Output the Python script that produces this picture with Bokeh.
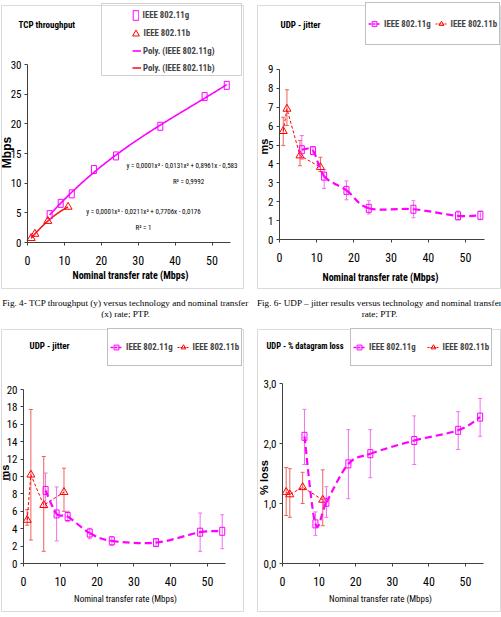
import numpy as np
from bokeh.plotting import figure
from bokeh.models import (ColumnDataSource, Whisker, TeeHead, Label, Legend, LegendItem,
                          FixedTicker, BoxAnnotation, Range1d)
from bokeh.layouts import column, row
from bokeh.embed import file_html
from bokeh.resources import INLINE

# ---------------- data ----------------
rate_g = [6, 9, 12, 18, 24, 36, 48, 54]          # IEEE 802.11g nominal rates (Mbps)
rate_b = [1, 2, 5.5, 11]                          # IEEE 802.11b nominal rates (Mbps)

# Fig. 4 - TCP throughput (Mbps)
tcp_g = [4.7, 6.6, 8.2, 12.3, 14.6, 19.6, 24.6, 26.5]
tcp_b = [0.73, 1.44, 3.61, 6.0]
eq_g = "y = 0,0001x\u00b3 - 0,0131x\u00b2 + 0,8961x - 0,583"
r2_g = "R\u00b2 = 0,9992"
eq_b = "y = 0,0001x\u00b3 - 0,0211x\u00b2 + 0,7706x - 0,0176"
r2_b = "R\u00b2 = 1"

# Fig. 6 - UDP jitter (ms), mean with low/high bars
jit1_g = [4.75, 4.7, 3.35, 2.6, 1.65, 1.6, 1.25, 1.28]
jit1_g_lo = [4.25, 4.5, 2.7, 2.1, 1.35, 1.15, 1.05, 1.05]
jit1_g_hi = [5.5, 4.9, 3.7, 3.1, 2.05, 2.05, 1.5, 1.5]
jit1_b = [5.73, 6.91, 4.44, 3.83]
jit1_b_lo = [4.97, 6.03, 3.9, 3.6]
jit1_b_hi = [6.47, 7.92, 5.24, 4.35]

# UDP jitter (ms), second set
jit2_g = [8.4, 5.7, 5.4, 3.5, 2.6, 2.4, 3.6, 3.7]
jit2_g_lo = [6.4, 2.6, 4.8, 2.85, 2.1, 2.0, 1.4, 1.7]
jit2_g_hi = [10.4, 8.8, 6.0, 4.05, 3.1, 2.8, 5.8, 5.6]
jit2_b = [5.0, 10.2, 6.7, 8.2]
jit2_b_lo = [4.4, 2.7, 1.4, 6.0]
jit2_b_hi = [6.2, 17.7, 12.3, 10.95]

# UDP - % datagram loss
loss_g = [2.12, 0.66, 1.02, 1.66, 1.83, 2.05, 2.22, 2.44]
loss_g_lo = [1.65, 0.47, 0.77, 1.08, 1.43, 1.65, 1.9, 2.12]
loss_g_hi = [2.57, 0.86, 1.28, 2.23, 2.23, 2.46, 2.53, 2.75]
loss_b = [1.19, 1.15, 1.27, 1.06]
loss_b_lo = [0.8, 0.77, 1.0, 0.63]
loss_b_hi = [1.6, 1.58, 1.52, 1.56]

x_ticks = [0, 10, 20, 30, 40, 50]
loss_tick_labels = {0: "0,0", 1: "1,0", 2: "2,0", 3: "3,0"}

# ---------------- styling ----------------
NARROW = "Roboto Condensed"
SANS = "Liberation Sans"
SERIF = "Liberation Serif"
MAGENTA = "#FF00FF"
RED = "#FF0000"
BAR_G = "#F070F0"
BAR_B = "#F06060"
AXIS = "#404040"
LEGEND_SIZE = "8.8px"

# panel geometry: page x, page y, width, height, axis origin x / y (inside figure)
G1 = (0, 0, 250, 318, 27, 242)
G2 = (250, 0, 251, 318, 29, 239)
G3 = (0, 318, 250, 299, 23, 245)
G4 = (250, 318, 251, 299, 32, 245)


def make_panel(geo, px_per_x, px_per_y, y_ticks, y_max):
    ox, oy, w, h, ax0, ay0 = geo
    p = figure(width=w, height=h, title=None, output_backend="svg", toolbar_location=None,
               x_range=Range1d(-ax0 / px_per_x, (w - ax0) / px_per_x),
               y_range=Range1d(-(h - ay0) / px_per_y, ay0 / px_per_y),
               min_border_left=0, min_border_right=0, min_border_top=0, min_border_bottom=0)
    p.outline_line_color = None
    p.xgrid.visible = False
    p.ygrid.visible = False
    p.background_fill_color = "white"
    p.border_fill_color = "white"
    p.xaxis.fixed_location = 0
    p.yaxis.fixed_location = 0
    p.xaxis.ticker = FixedTicker(ticks=x_ticks)
    p.yaxis.ticker = FixedTicker(ticks=y_ticks)
    p.xaxis.bounds = (0, 55)
    p.yaxis.bounds = (0, y_max)
    for ax in (p.xaxis[0], p.yaxis[0]):
        ax.axis_line_color = AXIS
        ax.major_tick_line_color = AXIS
        ax.major_tick_out = 3
        ax.major_tick_in = 0
        ax.minor_tick_line_color = None
        ax.major_label_text_font = NARROW
        ax.major_label_text_color = "black"
    p.xaxis.major_label_standoff = 10
    p.yaxis.major_label_standoff = 3
    p.xaxis.major_label_text_font_size = "12px"
    p.yaxis.major_label_text_font_size = "11px"
    return p


def put(p, geo, text, px, py, size="11px", font=NARROW, style="normal", align="left", angle=0.0):
    ox, oy, w, h, ax0, ay0 = geo
    p.add_layout(Label(x=px - ox, y=h - (py - oy), x_units="screen", y_units="screen",
                       text=text, text_font=font, text_font_size=size, text_font_style=style,
                       text_align=align, text_baseline="middle", angle=angle, text_color="black"))


def frame_box(p, geo, left, right, top, bottom, color):
    ox, oy, w, h, ax0, ay0 = geo
    p.add_layout(BoxAnnotation(left=left - ox, right=right - ox,
                               top=h - (top - oy), bottom=h - (bottom - oy),
                               left_units="screen", right_units="screen",
                               top_units="screen", bottom_units="screen",
                               fill_color=None, line_color=color, line_alpha=1.0, line_width=1))


def smooth(xs, ys):
    # cubic Bezier segments through the measured points (Catmull-Rom style handles)
    xs = np.asarray(xs, float)
    ys = np.asarray(ys, float)
    n = len(xs)
    d = dict(x0=[], y0=[], x1=[], y1=[], cx0=[], cy0=[], cx1=[], cy1=[])
    for i in range(n - 1):
        a = max(i - 1, 0)
        b = min(i + 2, n - 1)
        d["x0"].append(xs[i]); d["y0"].append(ys[i])
        d["x1"].append(xs[i + 1]); d["y1"].append(ys[i + 1])
        d["cx0"].append(xs[i] + (xs[i + 1] - xs[a]) / 6.0)
        d["cy0"].append(ys[i] + (ys[i + 1] - ys[a]) / 6.0)
        d["cx1"].append(xs[i + 1] - (xs[b] - xs[i]) / 6.0)
        d["cy1"].append(ys[i + 1] - (ys[b] - ys[i]) / 6.0)
    return ColumnDataSource(d)


def legend_only(xs):
    # rows with no y value: nothing lands on the plot, the legend still draws the glyph
    return ColumnDataSource(dict(x=list(xs), y=[float("nan")] * len(xs)))


def series_with_bars(p, gv, glo, ghi, bv, blo, bhi):
    src_g = ColumnDataSource(dict(x=rate_g, y=gv, lo=glo, hi=ghi))
    src_b = ColumnDataSource(dict(x=rate_b, y=bv, lo=blo, hi=bhi))
    for src, col in ((src_g, BAR_G), (src_b, BAR_B)):
        p.add_layout(Whisker(source=src, base="x", lower="lo", upper="hi", line_color=col,
                             line_width=1,
                             upper_head=TeeHead(size=4, line_color=col, line_width=1),
                             lower_head=TeeHead(size=4, line_color=col, line_width=1)))
    p.line("x", "y", source=src_b, line_color=RED, line_width=1, line_dash="3 2")
    p.scatter("x", "y", source=src_b, marker="triangle", size=8, fill_color=None,
              line_color=RED, line_width=1)
    p.bezier(x0="x0", y0="y0", x1="x1", y1="y1", cx0="cx0", cy0="cy0", cx1="cx1", cy1="cy1",
             source=smooth(rate_g, gv), line_color=MAGENTA, line_width=2.2, line_dash="7 4")
    p.rect("x", "y", source=src_g, width=5, height=8, width_units="screen",
           height_units="screen", fill_color=None, line_color=MAGENTA, line_width=1)


def pair_legend(p, geo, left, top, bottom, spacing):
    ox, oy, w, h, ax0, ay0 = geo
    g_line = p.line("x", "y", source=legend_only(rate_g), line_color=MAGENTA,
                    line_width=1.5, line_dash="3 1")
    g_mark = p.scatter("x", "y", source=legend_only(rate_g), marker="square", size=7,
                       fill_color=None, line_color=MAGENTA, line_width=1)
    b_line = p.line("x", "y", source=legend_only(rate_b), line_color=RED, line_width=1,
                    line_dash="2 1")
    b_mark = p.scatter("x", "y", source=legend_only(rate_b), marker="triangle", size=7,
                       fill_color=None, line_color=RED, line_width=1)
    leg = Legend(items=[LegendItem(label="IEEE 802.11g", renderers=[g_line, g_mark]),
                        LegendItem(label="IEEE 802.11b", renderers=[b_line, b_mark])],
                 orientation="horizontal", location=(left - ox, h - (bottom - oy)),
                 padding=2, margin=0, glyph_width=12, glyph_height=(bottom - top) - 4,
                 label_height=10, label_standoff=4, spacing=spacing,
                 border_line_color="#7F7F7F", border_line_width=1,
                 background_fill_color="white", background_fill_alpha=1.0,
                 label_text_font=NARROW, label_text_font_style="bold",
                 label_text_font_size=LEGEND_SIZE)
    p.add_layout(leg)


def x_label(p, geo, px, py, size, style):
    put(p, geo, "Nominal transfer rate (Mbps)", px, py, size=size, style=style, align="center")


# ---------------- Fig. 4: TCP throughput ----------------
p1 = make_panel(G1, 3.69, 5.93, [0, 5, 10, 15, 20, 25, 30], 30)
frame_box(p1, G1, 1, 243, 5, 288, "#DADADA")
fit_g = np.polyfit(rate_g, tcp_g, 3)
fit_b = np.polyfit(rate_b, tcp_b, 3)
xg = np.linspace(min(rate_g), max(rate_g), 120)
xb = np.linspace(min(rate_b), max(rate_b), 60)
trend_g = p1.line(xg, np.polyval(fit_g, xg), line_color=MAGENTA, line_width=1.6)
trend_b = p1.line(xb, np.polyval(fit_b, xb), line_color="#E8202A", line_width=1.6)
p1.rect(rate_g, tcp_g, width=5, height=8, width_units="screen", height_units="screen",
        fill_color=None, line_color=MAGENTA, line_width=1)
p1.scatter(rate_b, tcp_b, marker="triangle", size=8, fill_color=None, line_color=RED,
           line_width=1)

put(p1, G1, "TCP throughput", 18, 24, size="9px", style="bold")
put(p1, G1, "Mbps", 6, 152, size="12px", font=SANS, style="bold", align="center",
    angle=np.pi / 2)
x_label(p1, G1, 130, 275, "10px", "bold")
put(p1, G1, eq_g, 237, 165, size="7px", align="right")
put(p1, G1, r2_g, 188, 181, size="7px", align="center")
put(p1, G1, eq_b, 143, 211, size="7px", align="center")
put(p1, G1, r2_b, 143, 227, size="7px", align="center")
put(p1, G1, "Fig. 4- TCP throughput (y) versus technology and nominal transfer", 125, 302,
    size="9.2px", font=SERIF, align="center")
put(p1, G1, "(x) rate; PTP.", 125, 313, size="9.2px", font=SERIF, align="center")

# legend box holding marker entries and trend-line entries
frame_box(p1, G1, 101, 241, 3, 75, "#D0D0D0")
leg_m_g = p1.rect("x", "y", source=legend_only(rate_g), width=5, height=8,
                  width_units="screen", height_units="screen", fill_color=None,
                  line_color=MAGENTA, line_width=1)
leg_m_b = p1.scatter("x", "y", source=legend_only(rate_b), marker="triangle", size=8,
                     fill_color=None, line_color=RED, line_width=1)
common = dict(padding=0, margin=0, border_line_color=None,
              background_fill_alpha=0.0, label_text_font=NARROW,
              label_text_font_style="bold", label_text_font_size=LEGEND_SIZE, spacing=0)
p1.add_layout(Legend(items=[LegendItem(label="IEEE 802.11g", renderers=[leg_m_g])],
                     location=(131.5, 318 - 21), glyph_width=7, glyph_height=12,
                     label_height=12, label_standoff=4, **common))
p1.add_layout(Legend(items=[LegendItem(label="IEEE 802.11b", renderers=[leg_m_b])],
                     location=(126.5, 318 - 41.5), glyph_width=17, glyph_height=17,
                     label_height=12, label_standoff=0, **common))
p1.add_layout(Legend(items=[LegendItem(label="Poly. (IEEE 802.11g)", renderers=[trend_g]),
                            LegendItem(label="Poly. (IEEE 802.11b)", renderers=[trend_b])],
                     location=(132, 318 - 76), glyph_width=9, glyph_height=17,
                     label_height=12, label_standoff=2, **common))

# ---------------- Fig. 6: UDP jitter ----------------
p2 = make_panel(G2, 3.72, 18.9, list(range(10)), 9)
frame_box(p2, G2, 257, 500, 5, 288, "#DADADA")
series_with_bars(p2, jit1_g, jit1_g_lo, jit1_g_hi, jit1_b, jit1_b_lo, jit1_b_hi)
put(p2, G2, "UDP - jitter", 280, 24, size="9px", style="bold")
put(p2, G2, "ms", 263, 146, size="11px", font=SANS, style="bold", align="center",
    angle=np.pi / 2)
x_label(p2, G2, 380, 277, "10px", "bold")
pair_legend(p2, G2, 365, 4, 45, 4)
put(p2, G2, "Fig. 6- UDP \u2013 jitter results versus technology and nominal transfer", 379,
    302, size="9.2px", font=SERIF, align="center")
put(p2, G2, "rate; PTP.", 379, 313, size="9.2px", font=SERIF, align="center")

# ---------------- UDP jitter (second set) ----------------
p3 = make_panel(G3, 3.68, 8.7, list(range(0, 21, 2)), 20)
frame_box(p3, G3, 1, 243, 329, 611, "#DADADA")
series_with_bars(p3, jit2_g, jit2_g_lo, jit2_g_hi, jit2_b, jit2_b_lo, jit2_b_hi)
put(p3, G3, "UDP - jitter", 29, 345, size="9px", style="bold")
put(p3, G3, "ms", 4, 472, size="11px", font=SANS, style="bold", align="center",
    angle=np.pi / 2)
x_label(p3, G3, 125, 598, "9px", "normal")
pair_legend(p3, G3, 107, 330, 366, 4)

# ---------------- UDP - % datagram loss ----------------
p4 = make_panel(G4, 3.66, 60.0, [0, 1, 2, 3], 3)
p4.yaxis.major_label_overrides = loss_tick_labels
frame_box(p4, G4, 257, 500, 329, 611, "#DADADA")
series_with_bars(p4, loss_g, loss_g_lo, loss_g_hi, loss_b, loss_b_lo, loss_b_hi)
put(p4, G4, "UDP - % datagram loss", 266, 345, size="8.5px", style="bold")
put(p4, G4, "% loss", 263, 477, size="11px", font=SANS, style="bold", align="center",
    angle=np.pi / 2)
x_label(p4, G4, 380, 598, "9px", "normal")
pair_legend(p4, G4, 350, 330, 366, 11)

page = column(row(p1, p2), row(p3, p4))
open("out.html", "w").write(file_html(page, INLINE))
